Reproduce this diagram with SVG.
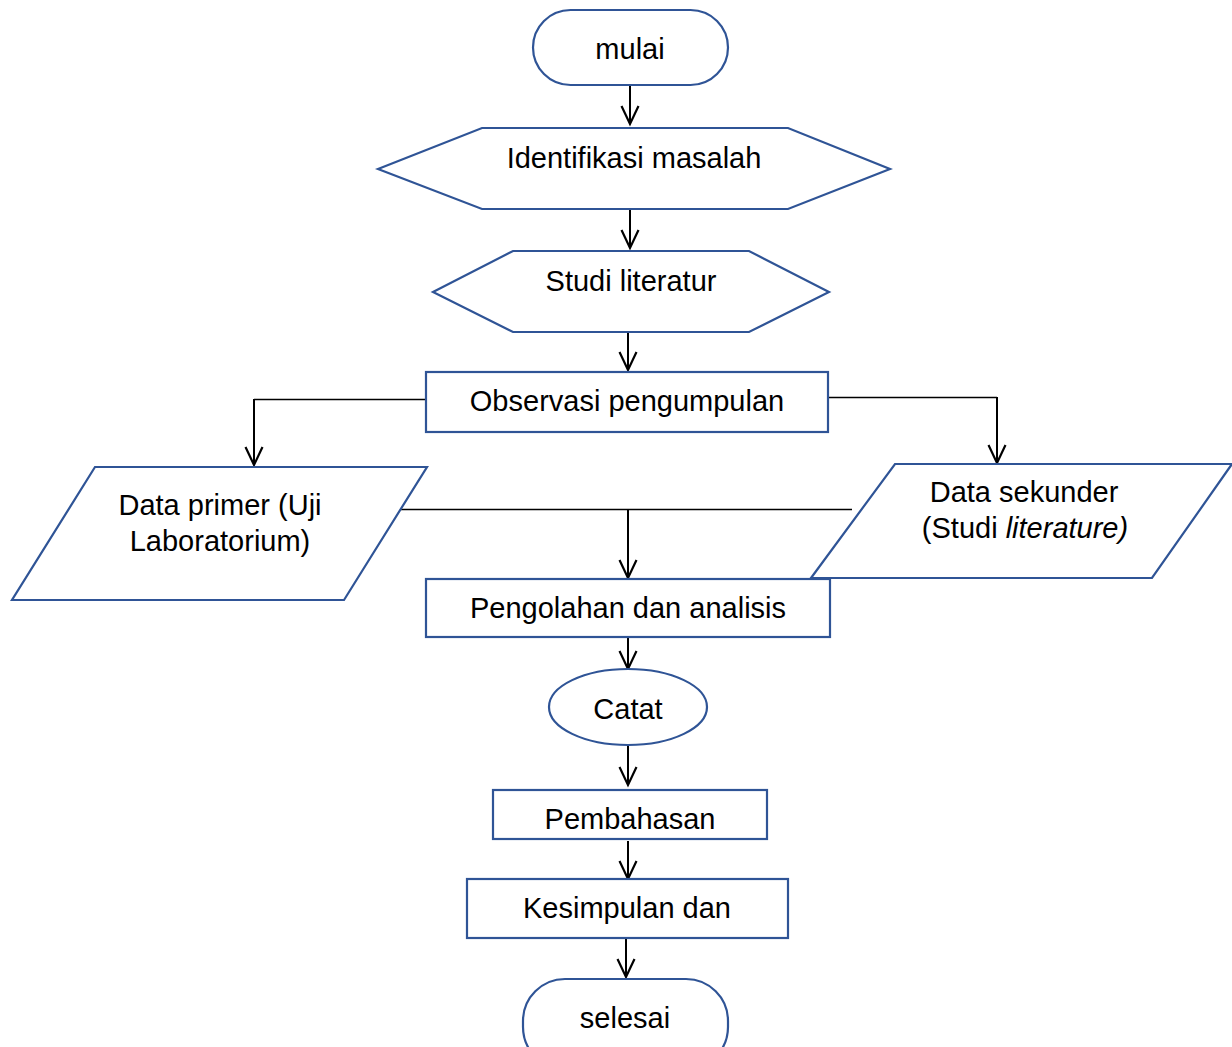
<svg xmlns="http://www.w3.org/2000/svg" width="1232" height="1047" viewBox="0 0 1232 1047">
<style>
.n{fill:#fff;stroke:#2F5496;stroke-width:2.2}
.t{font-family:"Liberation Sans",Arial,sans-serif;font-size:29px;fill:#000;text-anchor:middle}
.a{fill:none;stroke:#000;stroke-width:2}
.l{fill:none;stroke:#000;stroke-width:1.3}
</style>
<defs>
<marker id="ah" markerUnits="userSpaceOnUse" markerWidth="26" markerHeight="26" viewBox="-22 -13 26 26" refX="0" refY="0" orient="auto">
<path d="M-18,-8.5 L0,0 L-18,8.5" fill="none" stroke="#000" stroke-width="2.2"/>
</marker>
</defs>
<rect width="1232" height="1047" fill="#fff"/>
<g id="connectors">
<line class="a" x1="630" y1="85" x2="630" y2="124" marker-end="url(#ah)"/>
<line class="a" x1="630" y1="209" x2="630" y2="248" marker-end="url(#ah)"/>
<line class="a" x1="628" y1="332" x2="628" y2="370" marker-end="url(#ah)"/>
<polyline class="l" points="426,399.5 254,399.5"/>
<line class="a" x1="254" y1="399" x2="254" y2="465" marker-end="url(#ah)"/>
<polyline class="l" points="828,397.5 997,397.5"/>
<line class="a" x1="997" y1="397" x2="997" y2="463" marker-end="url(#ah)"/>
<line class="l" x1="401" y1="509.5" x2="852" y2="509.5"/>
<line class="a" x1="628" y1="510" x2="628" y2="578" marker-end="url(#ah)"/>
<line class="a" x1="628" y1="632" x2="628" y2="669" marker-end="url(#ah)"/>
<line class="a" x1="628" y1="745" x2="628" y2="785" marker-end="url(#ah)"/>
<line class="a" x1="628" y1="841" x2="628" y2="879" marker-end="url(#ah)"/>
<line class="a" x1="626" y1="938" x2="626" y2="977" marker-end="url(#ah)"/>
</g>
<g id="mulai">
<rect class="n" x="533" y="10" width="195" height="75" rx="37.5"/>
<text class="t" x="630" y="59">mulai</text>
</g>
<g id="identifikasi">
<polygon class="n" points="378,169 482,128 788,128 890,169 788,209 482,209"/>
<text class="t" x="634" y="168">Identifikasi masalah</text>
</g>
<g id="studi">
<polygon class="n" points="433,292 513,251 749,251 829,292 749,332 513,332"/>
<text class="t" x="631" y="291">Studi literatur</text>
</g>
<g id="observasi">
<rect class="n" x="426" y="372" width="402" height="60"/>
<text class="t" x="627" y="411">Observasi pengumpulan</text>
</g>
<g id="primer">
<polygon class="n" points="95,467 427,467 344,600 12,600"/>
<text class="t" x="220" y="515">Data primer (Uji</text>
<text class="t" x="220" y="551">Laboratorium)</text>
</g>
<g id="sekunder">
<polygon class="n" points="895,464 1232,464 1152,578 811,578"/>
<text class="t" x="1024" y="502">Data sekunder</text>
<text class="t" x="1025" y="538">(Studi <tspan font-style="italic">literature)</tspan></text>
</g>
<g id="pengolahan">
<rect class="n" x="426" y="579" width="404" height="58"/>
<text class="t" x="628" y="618">Pengolahan dan analisis</text>
</g>
<g id="catat">
<ellipse class="n" cx="628" cy="707" rx="79" ry="38"/>
<text class="t" x="628" y="719">Catat</text>
</g>
<g id="pembahasan">
<rect class="n" x="493" y="790" width="274" height="49"/>
<text class="t" x="630" y="829">Pembahasan</text>
</g>
<g id="kesimpulan">
<rect class="n" x="467" y="879" width="321" height="59"/>
<text class="t" x="627" y="918">Kesimpulan dan</text>
</g>
<g id="selesai">
<rect class="n" x="523" y="979" width="205" height="90" rx="42"/>
<text class="t" x="625" y="1028">selesai</text>
</g>
</svg>
